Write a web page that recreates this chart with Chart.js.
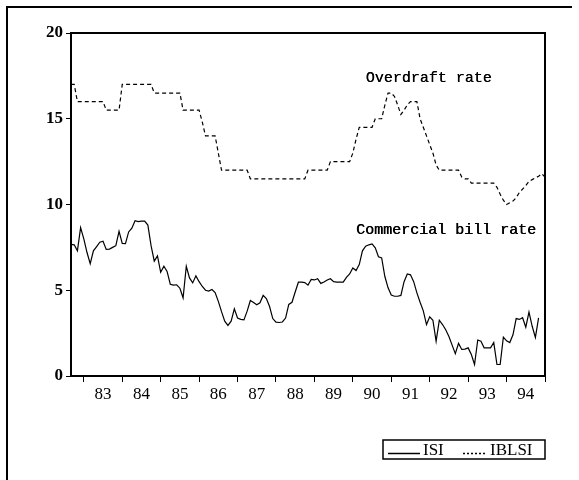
<!DOCTYPE html>
<html>
<head>
<meta charset="utf-8">
<script src="https://cdn.jsdelivr.net/npm/chart.js@4"></script>
<style>
  html, body { margin: 0; padding: 0; background: #fff; }
  #wrap { width: 579px; height: 480px; }
</style>
</head>
<body>
<div id="wrap"><canvas id="rates" width="579" height="480"></canvas></div>
<script>
// --- DATA ---
// Monthly observations, 1982:09 .. 1995:01 (one slot per month)
var firstYear = 1982, firstMonth = 9, monthCount = 149;

// Year labels, each printed in the middle of its year
var yearLabels = ['83', '84', '85', '86', '87', '88', '89', '90', '91', '92', '93', '94'];

// ISI - commercial bill rate (solid)
var isi = [
  7.67, 7.65, 7.3, 8.65, 8.0, 7.2, 6.55, 7.3, 7.55, 7.8,
  7.86, 7.38, 7.4, 7.5, 7.6, 8.44, 7.73, 7.72, 8.4, 8.62,
  9.05, 9.0, 9.03, 9.03, 8.8, 7.6, 6.7, 7.0, 6.05, 6.4,
  6.1, 5.35, 5.3, 5.32, 5.12, 4.56, 6.4, 5.72, 5.43, 5.84,
  5.5, 5.22, 5.0, 4.95, 5.04, 4.87, 4.35, 3.75, 3.2, 2.95,
  3.2, 3.92, 3.38, 3.3, 3.27, 3.78, 4.4, 4.28, 4.15, 4.27,
  4.7, 4.52, 4.05, 3.35, 3.14, 3.12, 3.15, 3.38, 4.17, 4.3,
  4.9, 5.47, 5.47, 5.45, 5.3, 5.63, 5.6, 5.67, 5.4, 5.48,
  5.6, 5.67, 5.5, 5.47, 5.47, 5.47, 5.75, 5.95, 6.3, 6.15,
  6.5, 7.3, 7.57, 7.65, 7.7, 7.47, 6.95, 6.89, 5.8, 5.14,
  4.72, 4.65, 4.65, 4.7, 5.5, 5.95, 5.9, 5.5, 4.85, 4.3,
  3.8, 3.0, 3.45, 3.25, 2.03, 3.25, 3.0, 2.7, 2.3, 1.8,
  1.3, 1.9, 1.55, 1.57, 1.64, 1.25, 0.67, 2.1, 2.03, 1.64,
  1.64, 1.64, 1.95, 0.67, 0.67, 2.27, 2.05, 1.95, 2.4, 3.35,
  3.3, 3.4, 2.85, 3.73, 2.9, 2.25, 3.39, null, null
];

// IBLSI - overdraft rate (dashed)
var iblsi = [
  17, 17, 16, 16, 16, 16, 16, 16, 16, 16,
  16, 15.5, 15.5, 15.5, 15.5, 15.5, 17, 17, 17, 17,
  17, 17, 17, 17, 17, 17, 16.5, 16.5, 16.5, 16.5,
  16.5, 16.5, 16.5, 16.5, 16.5, 15.5, 15.5, 15.5, 15.5, 15.5,
  15.5, 14.8, 14, 14, 14, 14, 13, 12, 12, 12,
  12, 12, 12, 12, 12, 12, 11.5, 11.5, 11.5, 11.5,
  11.5, 11.5, 11.5, 11.5, 11.5, 11.5, 11.5, 11.5, 11.5, 11.5,
  11.5, 11.5, 11.5, 11.5, 12, 12, 12, 12, 12, 12,
  12, 12.5, 12.5, 12.5, 12.5, 12.5, 12.5, 12.5, 13, 13.8,
  14.5, 14.5, 14.5, 14.5, 14.5, 15, 15, 15, 15.8, 16.5,
  16.5, 16.3, 15.8, 15.25, 15.5, 15.8, 16, 16, 16, 15.0,
  14.5, 14.0, 13.5, 13.0, 12.3, 12, 12, 12, 12, 12,
  12, 12, 11.6, 11.5, 11.5, 11.25, 11.25, 11.25, 11.25, 11.25,
  11.25, 11.25, 11.25, 11.0, 10.6, 10.25, 10.0, 10.1, 10.2, 10.4,
  10.7, 10.9, 11.1, 11.35, 11.45, 11.55, 11.65, 11.8, 11.6
];

// In-plot notes: text, month slot where text starts, value at text middle
var noteTexts = ['Overdraft rate', 'Commercial bill rate'];
var noteSlots = [92, 89];
var noteValues = [17.4, 8.5];

var legendNames = ['ISI', 'IBLSI'];

// month slot labels like 1982:09
var months = [];
for (var k = 0; k < monthCount; k++) {
  var mm = firstMonth - 1 + k;
  var yy = firstYear + Math.floor(mm / 12);
  var mo = (mm % 12) + 1;
  months.push(yy + ':' + (mo < 10 ? '0' + mo : mo));
}

var serif = '"Liberation Serif", "DejaVu Serif", serif';

// frame, plot border, notes and boxed legend
var decor = {
  id: 'decor',
  afterDraw: function (chart) {
    var ctx = chart.ctx, a = chart.chartArea;
    var xs = chart.scales.x, ys = chart.scales.y;
    ctx.save();
    ctx.strokeStyle = '#000';
    ctx.fillStyle = '#000';

    // page frame (left + top only are visible)
    ctx.lineWidth = 2;
    ctx.beginPath();
    ctx.moveTo(7, 480); ctx.lineTo(7, 7); ctx.lineTo(572, 7);
    ctx.stroke();

    // plot box
    ctx.strokeRect(a.left, a.top, a.right - a.left, a.bottom - a.top);

    // notes
    ctx.font = '15px "Liberation Mono", monospace';
    ctx.textBaseline = 'middle';
    ctx.textAlign = 'left';
    for (var n = 0; n < noteTexts.length; n++) {
      var px = xs.getPixelForValue(noteSlots[n]), py = ys.getPixelForValue(noteValues[n]);
      ctx.fillText(noteTexts[n], px, py);
      ctx.fillText(noteTexts[n], px + 0.4, py);   // slightly heavier strokes
    }

    // legend box
    var bx = 383, by = 440, bw = 162, bh = 19, my = by + bh / 2;
    ctx.lineWidth = 1.5;
    ctx.strokeRect(bx, by, bw, bh);
    ctx.beginPath(); ctx.moveTo(388, my + 4); ctx.lineTo(420, my + 4); ctx.stroke();
    ctx.setLineDash([2, 2]);
    ctx.beginPath(); ctx.moveTo(463, my + 4); ctx.lineTo(487, my + 4); ctx.stroke();
    ctx.setLineDash([]);
    ctx.font = '17px ' + serif;
    ctx.fillText(legendNames[0], 423, my + 1);
    ctx.fillText(legendNames[1], 490, my + 1);
    ctx.restore();
  }
};

new Chart(document.getElementById('rates'), {
  type: 'line',
  data: {
    labels: months,
    datasets: [
      {
        label: 'ISI',
        data: isi,
        borderColor: '#000',
        borderWidth: 1.2,
        pointRadius: 0,
        tension: 0,
        spanGaps: false
      },
      {
        label: 'IBLSI',
        data: iblsi,
        borderColor: '#000',
        borderWidth: 1.2,
        borderDash: [4, 3],
        pointRadius: 0,
        tension: 0
      }
    ]
  },
  options: {
    responsive: false,
    animation: false,
    layout: { padding: { top: 33, right: 34, left: 0, bottom: 0 } },
    plugins: {
      legend: { display: false },
      tooltip: { enabled: false }
    },
    scales: {
      x: {
        type: 'category',
        offset: false,
        border: { display: false },
        grid: {
          drawOnChartArea: false,
          drawTicks: true,
          tickLength: 6,
          lineWidth: 1,
          // tick marks only at January
          color: function (c) {
            return months[c.index] && months[c.index].slice(5) === '01' ? '#000' : 'rgba(0,0,0,0)';
          }
        },
        ticks: {
          autoSkip: false,
          maxRotation: 0,
          padding: 2,
          color: '#000',
          font: { family: serif, size: 17 },
          callback: function (v, i) {
            var lab = months[i];
            if (lab.slice(5) !== '07') return '';
            return yearLabels[parseInt(lab.slice(0, 4), 10) - 1983] || '';
          }
        },
        afterFit: function (s) { s.height = 104; }
      },
      y: {
        min: 0,
        max: 20,
        border: { display: false },
        grid: {
          drawOnChartArea: false,
          tickLength: 5,
          color: '#000',
          lineWidth: 1
        },
        ticks: {
          stepSize: 5,
          padding: 3,
          color: '#000',
          font: { family: serif, size: 17, weight: 'bold' }
        },
        afterFit: function (s) { s.width = 71; }
      }
    }
  },
  plugins: [decor]
});
</script>
</body>
</html>
